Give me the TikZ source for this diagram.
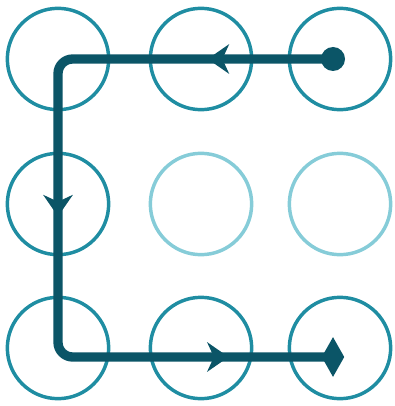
\documentclass[tikz,border=0pt]{standalone}
\usepackage{tikz}
\usetikzlibrary{positioning,arrows.meta,shapes.geometric,decorations.markings}
\usepackage{xcolor}
\definecolor{ringteal}{HTML}{1F8DA2}
\definecolor{ringpale}{HTML}{86CCD8}
\definecolor{trailteal}{HTML}{0B5567}
\tikzset{
  swipe/.tip={Stealth[length=16pt,width=22pt,inset=5pt]},
  ring/.style={circle,draw=#1,line width=2.6pt,minimum size=76pt,inner sep=0pt},
  startdot/.style={circle,fill=trailteal,minimum size=18pt,inner sep=0pt},
  enddiamond/.style={diamond,fill=trailteal,minimum width=17pt,minimum height=30pt,inner sep=0pt},
  trail/.style={draw=trailteal,line width=7pt,rounded corners=11pt,postaction=decorate,
    decoration={markings,
      mark=at position 0.15 with {\arrow[trailteal]{swipe}},
      mark=at position 0.51 with {\arrow[trailteal]{swipe}},
      mark=at position 0.875 with {\arrow[trailteal]{swipe}}}}
}
\begin{document}
\begin{tikzpicture}[x=0.75pt,y=-0.75pt]
\useasboundingbox (0,0) rectangle (394,406);
% pattern grid
\foreach \r/\c/\x/\y/\col in {1/1/58/59/ringteal,1/2/201/59/ringteal,1/3/340/59/ringteal,
    2/1/58/204/ringteal,2/2/201/204/ringpale,2/3/340/204/ringpale,
    3/1/58/348/ringteal,3/2/201/348/ringteal,3/3/340/348/ringteal} {
    \node[ring=\col] (c\r\c) at (\x,\y) {};
}
% swipe
\node[startdot] (start) at (333,59) {};
\node[enddiamond] (finish) at (333,357) {};
\draw[trail] (start.center) -- (c11.center) -- (c11.center |- finish.center) -- (finish.center);
\end{tikzpicture}
\end{document}
